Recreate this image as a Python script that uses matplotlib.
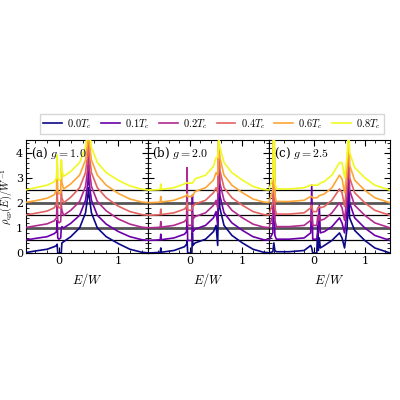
import matplotlib
matplotlib.use("Agg")
import matplotlib.pyplot as plt
from matplotlib.ticker import AutoMinorLocator

plt.rcParams['mathtext.fontset'] = 'cm'
plt.rcParams['font.family'] = ['DejaVu Serif']
plt.rcParams['font.size'] = 8

temps = ["0.0", "0.1", "0.2", "0.4", "0.6", "0.8"]
colors = ["#0d0887", "#6a00a8", "#b12a90", "#e16462", "#fca636", "#f0f921"]
offsets = [0.0, 0.5, 1.0, 1.5, 2.0, 2.5]
panel_labels = ["(a) $g=1.0$", "(b) $g=2.0$", "(c) $g=2.5$"]
xlims = [(-0.55, 1.5), (-0.8, 1.5), (-0.9, 1.5)]

# Panel (a): relative DOS (offset removed)
xa = [-0.55, -0.4, -0.2, -0.08, -0.04, -0.03, -0.02, 0.0, 0.03, 0.04, 0.05, 0.08, 0.2,
      0.35, 0.45, 0.49, 0.5, 0.51, 0.55, 0.65, 0.8, 1.0, 1.2, 1.4, 1.53]
ya = [
    [0.02, 0.08, 0.15, 0.25, 0.3, 0.35, 0.0, 0.0, 0.0, 0.0, 0.4, 0.45, 0.65, 1.0, 1.6, 2.3, 2.6, 2.3, 1.6, 1.0, 0.65, 0.38, 0.15, 0.03, 0.0],
    [0.02, 0.08, 0.15, 0.27, 0.35, 0.8, 0.1, 0.05, 0.1, 0.5, 0.55, 0.5, 0.68, 1.0, 1.6, 2.3, 3.0, 2.3, 1.6, 1.0, 0.65, 0.36, 0.15, 0.03, 0.0],
    [0.02, 0.08, 0.16, 0.28, 0.4, 1.2, 0.3, 0.2, 0.25, 0.9, 0.7, 0.5, 0.7, 1.05, 1.65, 2.4, 3.5, 2.4, 1.65, 1.05, 0.68, 0.36, 0.15, 0.03, 0.0],
    [0.02, 0.08, 0.17, 0.3, 0.45, 1.0, 0.4, 0.3, 0.3, 1.0, 0.7, 0.5, 0.72, 1.1, 1.7, 2.5, 3.5, 2.5, 1.7, 1.1, 0.7, 0.37, 0.15, 0.03, 0.0],
    [0.02, 0.08, 0.18, 0.32, 0.5, 1.8, 0.5, 0.35, 0.4, 1.7, 0.8, 0.55, 0.75, 1.1, 1.7, 2.5, 3.0, 2.5, 1.7, 1.1, 0.7, 0.38, 0.15, 0.03, 0.0],
    [0.02, 0.1, 0.2, 0.33, 0.5, 1.4, 0.5, 0.4, 0.45, 1.2, 0.8, 0.55, 0.75, 1.1, 1.7, 2.5, 2.5, 2.5, 1.7, 1.1, 0.7, 0.4, 0.17, 0.04, 0.0],
]

# Panel (b)
xb = [-0.8, -0.6, -0.56, -0.55, -0.54, -0.3, -0.1, -0.06, -0.05, -0.04, 0.0, 0.04, 0.05, 0.06,
      0.1, 0.3, 0.45, 0.5, 0.53, 0.55, 0.57, 0.65, 0.8, 1.0, 1.2, 1.4, 1.57]
yb = [
    [0.0, 0.02, 0.03, 0.2, 0.03, 0.1, 0.25, 0.35, 0.5, 0.0, 0.0, 0.0, 0.8, 0.3, 0.4, 0.55, 0.85, 1.1, 0.3, 3.0, 1.8, 1.1, 0.7, 0.4, 0.15, 0.03, 0.0],
    [0.0, 0.02, 0.03, 0.25, 0.03, 0.1, 0.25, 0.35, 1.2, 0.0, 0.0, 0.0, 1.8, 0.35, 0.45, 0.6, 0.9, 1.15, 0.6, 3.5, 1.8, 1.1, 0.7, 0.4, 0.15, 0.03, 0.0],
    [0.0, 0.02, 0.03, 0.25, 0.03, 0.1, 0.25, 0.35, 2.4, 0.1, 0.1, 0.1, 0.6, 0.35, 0.45, 0.6, 0.9, 1.1, 0.8, 3.5, 1.8, 1.1, 0.7, 0.4, 0.15, 0.03, 0.0],
    [0.0, 0.02, 0.03, 0.25, 0.03, 0.1, 0.25, 0.35, 0.5, 0.2, 0.2, 0.2, 0.4, 0.35, 0.45, 0.6, 0.9, 1.1, 0.9, 3.0, 1.8, 1.1, 0.7, 0.4, 0.15, 0.03, 0.0],
    [0.0, 0.02, 0.03, 0.25, 0.03, 0.1, 0.25, 0.3, 0.35, 0.25, 0.25, 0.25, 0.3, 0.3, 0.45, 0.6, 0.9, 1.2, 1.1, 2.5, 1.8, 1.1, 0.7, 0.4, 0.15, 0.03, 0.0],
    [0.0, 0.02, 0.03, 0.25, 0.03, 0.1, 0.25, 0.3, 0.3, 0.28, 0.28, 0.28, 0.3, 0.3, 0.45, 0.6, 0.95, 1.3, 1.3, 2.0, 1.7, 1.1, 0.7, 0.4, 0.15, 0.03, 0.0],
]

# Panel (c)
xc = [-0.9, -0.82, -0.8, -0.78, -0.75, -0.7, -0.5, -0.2, -0.07, -0.05, -0.03, 0.0, 0.05, 0.07,
      0.08, 0.1, 0.12, 0.2, 0.35, 0.5, 0.55, 0.6, 0.65, 0.68, 0.7, 0.8, 1.0, 1.2, 1.5]
yc = [
    [0.0, 0.05, 0.4, 0.1, 0.05, 0.05, 0.05, 0.1, 0.3, 0.2, 0.0, 0.0, 0.0, 1.1, 0.1, 0.6, 0.2, 0.3, 0.5, 0.8, 0.6, 0.2, 1.0, 2.5, 1.4, 0.9, 0.5, 0.2, 0.0],
    [0.0, 0.3, 3.0, 0.2, 0.05, 0.05, 0.05, 0.1, 0.3, 2.2, 0.05, 0.05, 0.05, 0.3, 0.3, 1.4, 0.3, 0.35, 0.55, 0.9, 0.7, 0.3, 1.2, 3.0, 1.5, 0.9, 0.5, 0.2, 0.0],
    [0.0, 0.5, 4.0, 0.3, 0.05, 0.05, 0.05, 0.1, 0.3, 0.6, 0.1, 0.1, 0.1, 0.5, 0.3, 0.5, 0.3, 0.35, 0.6, 1.0, 0.8, 0.3, 1.3, 3.5, 1.5, 0.9, 0.5, 0.2, 0.0],
    [0.0, 0.5, 4.0, 0.3, 0.05, 0.05, 0.05, 0.1, 0.3, 0.4, 0.15, 0.15, 0.15, 0.3, 0.3, 0.35, 0.3, 0.35, 0.6, 1.05, 0.9, 0.35, 1.3, 3.5, 1.5, 0.9, 0.5, 0.2, 0.0],
    [0.0, 0.5, 4.0, 0.3, 0.05, 0.05, 0.05, 0.1, 0.25, 0.25, 0.2, 0.2, 0.2, 0.22, 0.25, 0.28, 0.3, 0.35, 0.6, 1.1, 0.95, 0.4, 1.3, 3.0, 1.5, 0.9, 0.5, 0.2, 0.0],
    [0.0, 0.5, 4.0, 0.3, 0.05, 0.05, 0.05, 0.1, 0.2, 0.2, 0.2, 0.2, 0.2, 0.2, 0.22, 0.25, 0.28, 0.35, 0.6, 1.1, 1.1, 0.5, 1.3, 2.5, 1.5, 0.9, 0.5, 0.2, 0.0],
]

panels = [(xa, ya), (xb, yb), (xc, yc)]

fig = plt.figure(figsize=(4, 4), dpi=100)
left, bottom, w, h = 0.066, 0.3675, 0.303, 0.2825
axes = [fig.add_axes([left + i * w, bottom, w, h]) for i in range(3)]

for i, ax in enumerate(axes):
    xs, ys = panels[i]
    for k in range(6):
        yy = [v + offsets[k] for v in ys[k]]
        ax.plot(xs, yy, color=colors[k], lw=1.2, label=f"${temps[k]}T_c$", zorder=3)
    for yl in [0.5, 1.5, 2.5]:
        ax.axhline(yl, color="black", lw=0.9, zorder=2)
    for yl in [1.0, 2.0]:
        ax.axhline(yl, color="#555555", lw=2.0, zorder=2)
    ax.set_xlim(*xlims[i])
    ax.set_ylim(0, 4.5)
    ax.set_xticks([0, 1])
    ax.set_yticks([0, 1, 2, 3, 4])
    ax.xaxis.set_minor_locator(AutoMinorLocator(5))
    ax.yaxis.set_minor_locator(AutoMinorLocator(5))
    ax.tick_params(which="both", direction="in", top=True, right=True, labelsize=8, pad=2.5)
    ax.tick_params(which="major", length=4)
    ax.tick_params(which="minor", length=2)
    ax.set_xlabel("$E/W$", fontsize=9, labelpad=3)
    ax.text(0.04, 0.95, panel_labels[i], transform=ax.transAxes, ha="left", va="top", fontsize=8.5)
    if i > 0:
        ax.tick_params(labelleft=False)

axes[0].set_ylabel(r"$\rho_{\rm qp}(E)/W^{-1}$", fontsize=7.5)
axes[0].yaxis.set_label_coords(-0.1, 0.5)
handles, labels = axes[0].get_legend_handles_labels()
fig.legend(handles, labels, ncol=6, loc="lower center", bbox_to_anchor=(0.53, 0.652),
           fontsize=7.5, frameon=True, fancybox=False, edgecolor="#cccccc",
           handlelength=1.8, columnspacing=0.9, handletextpad=0.5, borderpad=0.3)

fig.savefig("out.png", dpi=100)
